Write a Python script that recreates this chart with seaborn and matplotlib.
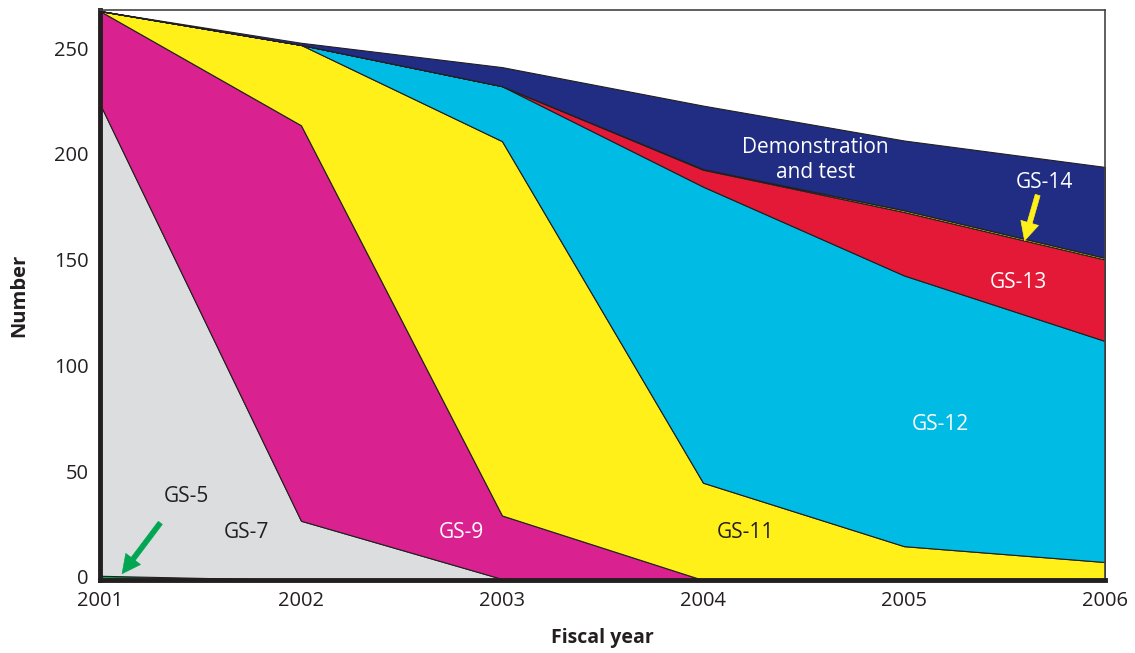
import numpy as np
import pandas as pd
import matplotlib
matplotlib.use('Agg')
import matplotlib.pyplot as plt
import matplotlib.transforms as mtransforms
import seaborn as sns

# values
years = [2001, 2002, 2003, 2004, 2005, 2006]
gs5 = [2, 0, 0, 0, 0, 0]
gs7 = [223, 28, 0.5, 0, 0, 0]
gs9 = [44, 187, 30, 0, 0.5, 0]
gs11 = [0, 38, 177, 46, 15.5, 8.5]
gs12 = [0, 0, 26, 140, 128, 104.5]
gs13 = [0, 0, 0, 8, 30, 38.5]
gs14 = [0, 0, 0, 0.3, 0.8, 0.8]
demo = [0, 1, 9, 30, 33, 43]
yticks = [0, 50, 100, 150, 200, 250]

colors = ['#00a651', '#dcdddf', '#da2190', '#fff01a', '#00bce4',
          '#e31937', '#fff01a', '#212d82']

sns.set_theme(style='white')
plt.rcParams['font.family'] = ['Open Sans', 'DejaVu Sans']

fig = plt.figure(figsize=(11.35, 6.53), dpi=100)
ax = fig.add_axes([100 / 1135, 73 / 653, 1005 / 1135, 570 / 653])

df = pd.DataFrame({'year': years, 'GS-5': gs5, 'GS-7': gs7, 'GS-9': gs9,
                   'GS-11': gs11, 'GS-12': gs12, 'GS-13': gs13,
                   'GS-14': gs14, 'Demo': demo})
series = [df[c] for c in df.columns[1:]]
ax.stackplot(df['year'], *series, colors=colors,
             edgecolor='#231f20', linewidth=0.8)

ax.set_xlim(2001, 2006)
ax.set_ylim(0, 269.5)
ax.set_xticks(years)
ax.set_yticks(yticks)
ax.tick_params(axis='x', direction='in', length=15, width=1.2, color='#231f20',
               labelsize=14.5, pad=8, labelcolor='#231f20')
ax.tick_params(axis='y', direction='in', length=18, width=1.2, color='#231f20',
               labelsize=14.5, pad=8, labelcolor='#231f20')
# y labels sit a few pixels above their ticks in the original
shift = mtransforms.ScaledTranslation(0, 3 / 100, fig.dpi_scale_trans)
for lbl in ax.get_yticklabels():
    lbl.set_transform(lbl.get_transform() + shift)
for s in ['left', 'bottom']:
    ax.spines[s].set_linewidth(3.5)
    ax.spines[s].set_color('#231f20')
for s in ['top', 'right']:
    ax.spines[s].set_linewidth(1.2)
    ax.spines[s].set_color('#444444')

ax.set_xlabel('Fiscal year', fontsize=14, fontweight='bold', labelpad=12,
              color='#231f20')
ax.set_ylabel('Number', fontsize=14.5, fontweight='bold', labelpad=18,
              color='#231f20')

# region labels
lab = dict(fontsize=15, ha='center', va='center')
ax.text(2001.43, 39.3, 'GS-5', color='#231f20', **lab)
ax.text(2001.73, 22.3, 'GS-7', color='#231f20', **lab)
ax.text(2002.80, 22.3, 'GS-9', color='white', **lab)
ax.text(2004.21, 22.3, 'GS-11', color='#231f20', **lab)
ax.text(2005.18, 73.4, 'GS-12', color='white', **lab)
ax.text(2005.57, 140.6, 'GS-13', color='white', **lab)
ax.text(2005.70, 188, 'GS-14', color='white', **lab)
ax.text(2004.56, 198.5, 'Demonstration\nand test', color='white',
        linespacing=1.25, **lab)

arrow = 'simple,head_length=1.1,head_width=1.1,tail_width=0.3'
ax.annotate('', xy=(2001.11, 3.0), xytext=(2001.30, 27),
            arrowprops=dict(arrowstyle=arrow, color='#00a651', lw=0.5,
                            shrinkA=0, shrinkB=0))
ax.annotate('', xy=(2005.60, 160.5), xytext=(2005.665, 182),
            arrowprops=dict(arrowstyle=arrow, color='#fff01a', lw=0.5,
                            shrinkA=0, shrinkB=0))

fig.savefig('out.png', dpi=100)
